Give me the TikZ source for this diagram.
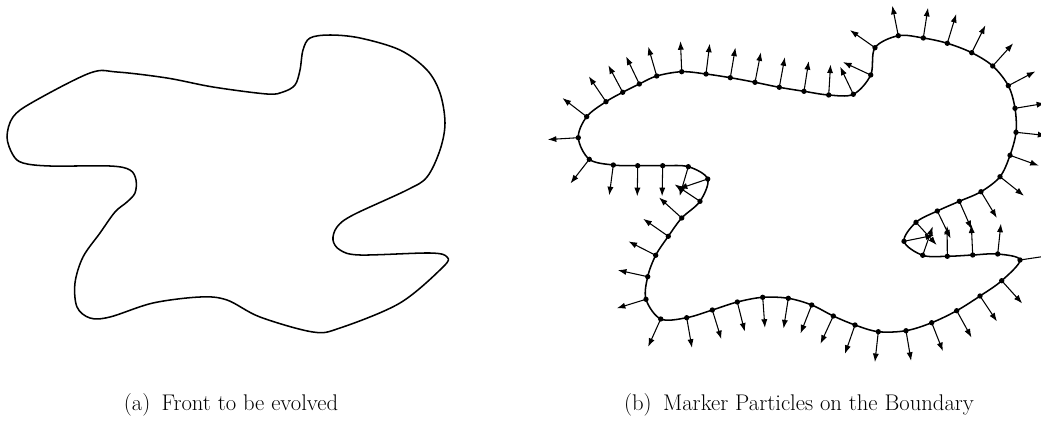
\documentclass[tikz,border=0pt]{standalone}
\usetikzlibrary{arrows.meta,calc}
\tikzset{
  front/.style   = {line width=1.15pt, line join=round},
  normal/.style  = {-{Latex[length=6.5pt,width=4.6pt]}, line width=0.8pt},
  subcap/.style  = {font=\fontsize{17}{20}\selectfont, anchor=base}
}
% marker particles of the boundary, in pixel units
\def\markers{578.3/137.7, 586.7/116.7, 606/101.7, 622.7/92.3, 639.3/84,
  656.7/76, 681.7/71.7, 706/74, 730.3/77.7, 755/82.3, 779.3/87.3,
  804/91.3, 828.7/95, 853.3/94.3, 870.7/75, 875/47.7, 898.3/35.7,
  923.3/38, 947.3/43.3, 971.7/52.7, 992.7/66, 1008.3/85.7, 1015/108.3,
  1016/132.3, 1010/155.3, 1000/176.7, 981/191.7, 959.3/201.3,
  937.3/211, 916/222.3, 904/241.3, 922.7/255.3, 947.3/256.3,
  972.7/255, 997.7/254, 1020/260, 1001.7/280.7, 980/296, 956.7/310.7,
  931.7/322.7, 906/330.7, 878.3/331.7, 855/325, 833.3/316, 811.7/305,
  788.3/298.3, 762.7/297.3, 737.3/302, 712.3/310, 686.7/317.7,
  660.7/319, 646/299.3, 647.7/276.7, 655.7/255.3, 668.3/236.3,
  681.7/218, 700/201.3, 707.7/179, 688.3/166.7, 662.7/165.7,
  637.7/165.7, 613.3/165, 589.3/159.3}
\begin{document}
\begin{tikzpicture}[x=0.75pt, y=-0.75pt]
  \useasboundingbox (0,0) rectangle (1041,421);

  % (a) the front
  \draw[front] plot[smooth cycle, tension=0.55] coordinates {
    (330,35) (310,38) (303,50) (300,70) (295,85) (283,92) (267,94)
    (213,87) (167,78) (117,72) (90,73) (33,102) (13,117) (7,137)
    (13,155) (23,163) (50,166) (110,166) (130,170) (136,180) (135,193)
    (127,202) (115,212) (100,233) (83,257) (75,283) (77,307) (90,318)
    (110,317) (153,303) (200,297) (227,300) (260,317) (313,332)
    (340,328) (400,303) (443,267) (447,257) (430,253) (360,255)
    (340,250) (333,240) (337,227) (353,215) (407,190) (427,177)
    (440,150) (445,123) (440,93) (427,70) (400,50) (360,38)};

  % (b) the same front with marker particles and normals
  \foreach \x/\y [count=\i] in \markers
    \coordinate (m\i) at (\x,\y);
  \coordinate (m0) at (m63);
  \coordinate (m64) at (m1);
  \def\curve{}
  \foreach \i in {1,...,63}{\xdef\curve{\curve (m\i)}}
  \edef\drawcurve{\noexpand\draw[front] plot[smooth cycle, tension=0.55]
    coordinates {\curve};}
  \drawcurve
  \foreach \i in {1,...,63}{
    \pgfmathtruncatemacro\prv{\i-1}
    \pgfmathtruncatemacro\nxt{\i+1}
    \coordinate (t) at ($(m\i)+(m\nxt)-(m\prv)$);
    \coordinate (n\i) at ($(m\i)!23pt!90:(t)$);
    \draw[normal] (m\i) -- (n\i);
    \fill (m\i) circle (2pt);
  }

  \node[subcap] (capa) at (231,410) {(a)\enspace Front to be evolved};
  \node[subcap] (capb) at (799,410) {(b)\enspace Marker Particles on the Boundary};
\end{tikzpicture}
\end{document}
